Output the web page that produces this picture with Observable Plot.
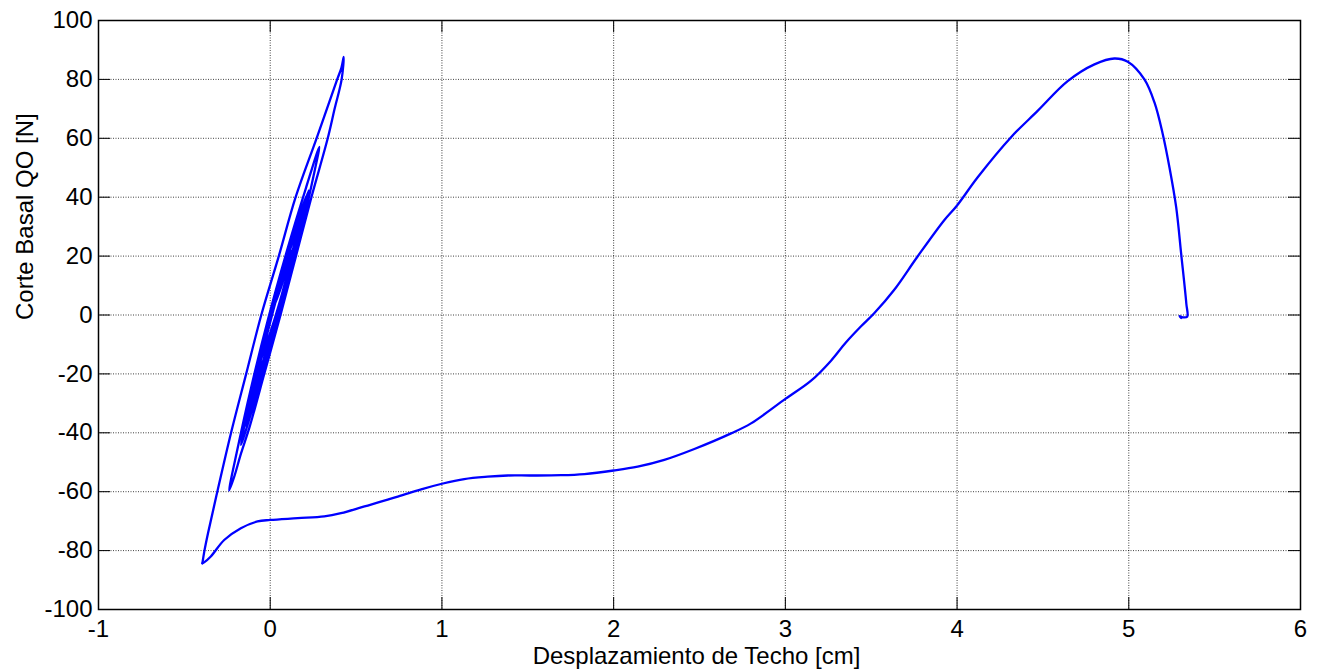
<!DOCTYPE html>
<html>
<head>
<meta charset="utf-8">
<script src="https://cdn.jsdelivr.net/npm/d3@7"></script>
<script src="https://cdn.jsdelivr.net/npm/@observablehq/plot@0.6"></script>
<style>
html, body { margin: 0; padding: 0; background: #ffffff; }
</style>
</head>
<body>
<div id="chart"></div>
<script>
// Tick values and labels
const xTicks = [-1, 0, 1, 2, 3, 4, 5, 6];
const yTicks = [-100, -80, -60, -40, -20, 0, 20, 40, 60, 80, 100];
const xLabel = "Desplazamiento de Techo [cm]";
const yLabel = "Corte Basal QO [N]";

// Hysteresis cycles (roof displacement [cm], base shear [N])
const cycleX = [0,
  0.019, 0.046, 0.072, 0.094, 0.111, 0.12,
  0.092, 0.053, 0.015, -0.019, -0.045, -0.06,
  -0.026, 0.021, 0.068, 0.109, 0.141, 0.16,
  0.122, 0.068, 0.015, -0.032, -0.068, -0.09,
  -0.047, 0.014, 0.075, 0.128, 0.17, 0.195,
  0.147, 0.08, 0.014, -0.046, -0.092, -0.12,
  -0.068, 0.004, 0.077, 0.142, 0.193, 0.224,
  0.171, 0.096, 0.021, -0.046, -0.1, -0.132,
  -0.082, -0.011, 0.061, 0.125, 0.178, 0.21,
  0.161, 0.092, 0.021, -0.043, -0.094, -0.125,
  -0.076, -0.005, 0.067, 0.132, 0.185, 0.218,
  0.167, 0.094, 0.019, -0.05, -0.105, -0.14,
  -0.081, -0.01, 0.062, 0.125, 0.175, 0.205,
  0.148, 0.069, -0.011, -0.082, -0.138, -0.171,
  -0.104, -0.009, 0.088, 0.174, 0.244, 0.286,
  0.208, 0.099, -0.012, -0.111, -0.191, -0.239,
  -0.21, -0.17, -0.12, -0.03, 0.06, 0.15, 0.24, 0.335, 0.375, 0.416, 0.428,
  0.415, 0.39, 0.27, 0.148, 0.05, -0.052, -0.14, -0.228, -0.308, -0.362, -0.383, -0.395];
const cycleY = [0,
  2.6, 6.6, 11, 15.4, 19.4, 22,
  17.4, 10.6, 3, -4.6, -11.4, -16,
  -10.5, -2.2, 7, 16.2, 24.5, 30,
  23.5, 13.8, 3, -7.8, -17.5, -24,
  -16.6, -5.4, 7, 19.4, 30.6, 38,
  29.8, 17.6, 4, -9.6, -21.8, -30,
  -21.3, -8.3, 6.2, 20.6, 33.6, 42.3,
  32.9, 18.8, 3.1, -12.7, -26.8, -36.2,
  -27.0, -13.2, 2.2, 17.5, 31.3, 40.5,
  31.6, 18.2, 3.3, -11.7, -25.1, -34,
  -24.9, -11.4, 3.8, 18.9, 32.4, 41.5,
  32.0, 17.7, 1.8, -14.2, -28.5, -38,
  -27.1, -13.5, 1.7, 16.8, 30.4, 39.5,
  29.5, 14.4, -2.3, -19, -34.1, -44.1,
  -32, -13.7, 6.5, 26.7, 45, 57.1,
  43.1, 22.1, -1.3, -24.6, -45.6, -59.6,
  -55, -47, -38, -19, 0, 20, 40, 60, 70, 80, 87.6,
  84, 80, 60, 40, 20, 0, -20, -40, -60, -74, -80, -84.3];

// Final large excursion (starts at the last cycle minimum)
const pushX = [-0.395, -0.385, -0.346, -0.268, -0.171, -0.074, 0, 0.16, 0.315, 0.412, 0.549, 0.743, 0.879,
  1.0, 1.13, 1.266, 1.383, 1.518, 1.693, 1.83, 2.0, 2.14, 2.295, 2.47, 2.684, 2.8,
  3.0, 3.15, 3.266, 3.35, 3.438, 3.516, 3.632, 3.768, 3.924, 4.0, 4.119, 4.313, 4.469,
  4.644, 4.8, 4.916, 4.994, 5.091, 5.15, 5.198, 5.237, 5.276, 5.305, 5.335, 5.34,
  5.315, 5.296, 5.305];
const pushY = [-84.3, -84, -82, -76.4, -72.4, -70.1, -69.6, -69.0, -68.4, -67.3, -65, -61.7, -59.2,
  -57.3, -55.7, -54.9, -54.5, -54.5, -54.4, -54.0, -52.8, -51.5, -49.2, -45.5, -40.2, -36.8,
  -28.5, -22.3, -15.5, -9.5, -4.0, 0.5, 8.4, 19.7, 32.1, 37.2, 46.7, 60.3, 69.3,
  79.4, 85.1, 87.1, 86.0, 80, 72.1, 61.4, 50.1, 36.6, 20.8, 3.9, -0.6,
  -0.8, -0.4, -1.0];

const cycleData = cycleX.map((x, i) => ({x, y: cycleY[i]}));
const pushData = pushX.map((x, i) => ({x, y: pushY[i]}));

const W = 1317, H = 671;
const mL = 98, mR = 17, mT = 20, mB = 62;
const innerW = W - mL - mR;
const innerH = H - mT - mB;
const tickLen = 12;
const font = "'Liberation Sans', Arial, Helvetica, sans-serif";
const gridStyle = {stroke: "#000", strokeOpacity: 0.75, strokeWidth: 1, strokeDasharray: "1,1.5"};
const lineStyle = {stroke: "#0000ff", strokeWidth: 2.3, curve: "catmull-rom"};

const chart = Plot.plot({
  width: W,
  height: H,
  marginLeft: mL,
  marginRight: mR,
  marginTop: mT,
  marginBottom: mB,
  x: {domain: [-1, 6]},
  y: {domain: [-100, 100]},
  style: {fontFamily: font, fontSize: "24px", background: "#ffffff", color: "#000"},
  marks: [
    Plot.ruleX(xTicks, {x: d => d, ...gridStyle}),
    Plot.ruleY(yTicks, {y: d => d, ...gridStyle}),
    Plot.line(cycleData, {x: "x", y: "y", ...lineStyle}),
    Plot.line(pushData, {x: "x", y: "y", ...lineStyle}),
    Plot.tickX(xTicks, {x: d => d, insetTop: innerH - tickLen, stroke: "#000"}),
    Plot.tickX(xTicks, {x: d => d, insetBottom: innerH - tickLen, stroke: "#000"}),
    Plot.tickY(yTicks, {y: d => d, insetRight: innerW - tickLen, stroke: "#000"}),
    Plot.tickY(yTicks, {y: d => d, insetLeft: innerW - tickLen, stroke: "#000"}),
    Plot.frame({stroke: "#000", strokeWidth: 1.5}),
    Plot.axisX(xTicks, {tickSize: 0, tickPadding: 10, fontSize: 24, tickFormat: d => String(d), label: null}),
    Plot.axisY(yTicks, {tickSize: 0, tickPadding: 6, fontSize: 24, tickFormat: d => String(d), label: null}),
    Plot.text([xLabel], {text: d => d, frameAnchor: "bottom", lineAnchor: "top", dy: 37, dx: -3, fontSize: 24, fill: "#000"}),
    Plot.text([yLabel], {text: d => d, frameAnchor: "left", lineAnchor: "top", rotate: -90, dx: -83, dy: 5, fontSize: 24, fill: "#000"})
  ]
});
document.getElementById("chart").appendChild(chart);
</script>
</body>
</html>
